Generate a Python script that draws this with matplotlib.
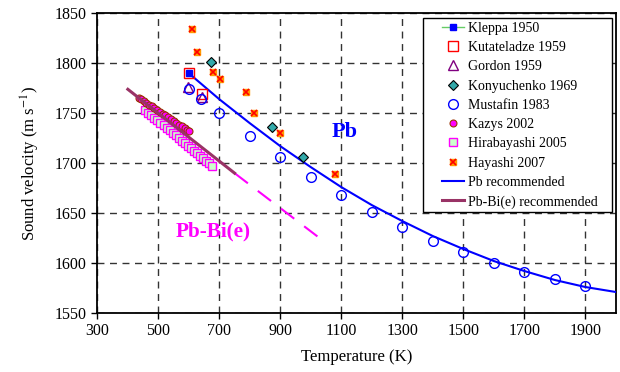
import numpy as np
import matplotlib.pyplot as plt
from matplotlib.patches import Rectangle
from matplotlib.legend_handler import HandlerTuple

plt.rcParams['font.family'] = ['Liberation Serif', 'DejaVu Serif']
plt.rcParams['mathtext.fontset'] = 'stix'

# data
kleppa_T = [601]
kleppa_v = [1790]
kutat_T = [601, 642]
kutat_v = [1790, 1769]
gordon_T = [598, 642]
gordon_v = [1776, 1766]
konyu_T = [674, 874, 975]
konyu_v = [1801, 1736, 1706]
mustafin_T = [600, 640, 700, 800, 900, 1000, 1100, 1200, 1300, 1400, 1500, 1600, 1700, 1800, 1900]
mustafin_v = [1774, 1764, 1750, 1727, 1706, 1686, 1668, 1651, 1636, 1622, 1611, 1600, 1591, 1584, 1577]
kazys_T = [435, 443, 452, 461, 469, 478, 487, 496, 505, 514, 523, 532, 541, 550, 559, 568, 577, 586, 594, 602]
kazys_v = [1765, 1764, 1762, 1760, 1758, 1757, 1755, 1753, 1751, 1749, 1748, 1746, 1744, 1742, 1740, 1738, 1737, 1735, 1733, 1732]
hira_T = [457, 467, 477, 487, 497, 507, 517, 527, 537, 547, 557, 567, 577, 587, 597, 607, 617, 627, 637, 647, 657, 667, 677]
hira_v = [1753, 1750, 1748, 1745, 1743, 1740, 1738, 1735, 1733, 1730, 1728, 1725, 1722, 1720, 1717, 1715, 1712, 1710, 1707, 1705, 1702, 1700, 1697]
hayashi_T = [609, 626, 678, 702, 786, 813, 899, 1079]
hayashi_v = [1834, 1811, 1791, 1784, 1771, 1750, 1730, 1689]
pb_T = [600, 700, 800, 900, 1000, 1100, 1200, 1300, 1400, 1500, 1600, 1700, 1800, 1900, 2000]
pb_v = [1790, 1764, 1740, 1717, 1696, 1676, 1658, 1642, 1627, 1614, 1602, 1592, 1583, 1576, 1571]
pbbi_T = [400, 750]
pbbi_v = [1774, 1690]
pbbi_ext_T = [750, 1050]
pbbi_ext_v = [1690, 1620]

fig = plt.figure(figsize=(6.2, 3.72), dpi=100)
ax = fig.add_axes([0.157, 0.1586, 0.8365, 0.8054])

h_kl, = ax.plot(kleppa_T, kleppa_v, '-s', color='#66cc66', mfc='#0000ff', mec='#0000ff', ms=4.5,
                lw=1, zorder=6)
h_ku, = ax.plot(kutat_T, kutat_v, 's', mfc='none', mec='#ff0000', ms=7, mew=1, zorder=5)
h_go, = ax.plot(gordon_T, gordon_v, '^', mfc='none', mec='#800080', ms=7, mew=1, zorder=5)
h_ko, = ax.plot(konyu_T, konyu_v, 'D', mfc='#33aaaa', mec='black', ms=5, mew=0.8, zorder=5)
h_mu, = ax.plot(mustafin_T, mustafin_v, 'o', mfc='none', mec='#0000ff', ms=7, mew=1, zorder=5)
h_ka, = ax.plot(kazys_T, kazys_v, 'o', mfc='#ff00ff', mec='#993300', ms=5, mew=0.8, zorder=4)
h_hi, = ax.plot(hira_T, hira_v, 's', mfc='#ccffcc', mec='#ff00ff', ms=5.5, mew=1, zorder=3)
h_ha1, = ax.plot(hayashi_T, hayashi_v, 's', mfc='#ff9900', mec='#ff9900', ms=5, zorder=5)
h_ha2, = ax.plot(hayashi_T, hayashi_v, 'x', color='#ff0000', ms=4, mew=1.2, zorder=5.1)
h_pb, = ax.plot(pb_T, pb_v, '-', color='#0000ff', lw=1.5, zorder=4)
h_pbbi, = ax.plot(pbbi_T, pbbi_v, '-', color='#993366', lw=2.2, zorder=4.5)
ax.plot(pbbi_ext_T, pbbi_ext_v, '--', color='#ff00ff', lw=1.5, dashes=(8, 6), zorder=4)

ax.text(1112, 1731, 'Pb', color='#0000ff', fontsize=16, fontweight='bold', ha='center', va='center')
ax.text(679, 1632, 'Pb-Bi(e)', color='#ff00ff', fontsize=15.2, fontweight='bold', ha='center', va='center')

ax.set_xlim(300, 2000)
ax.set_ylim(1550, 1850)
ax.set_xticks(np.arange(300, 2000, 200))
ax.set_yticks(np.arange(1550, 1851, 50))
ax.grid(True, color='#333333', linestyle=(0, (5, 4)), lw=1)
ax.tick_params(direction='out', length=4, width=1, labelsize=11.5)
for s in ax.spines.values():
    s.set_linewidth(1.3)

ax.set_xlabel('Temperature (K)', fontsize=12, labelpad=7)
ax.set_ylabel('Sound velocity (m s$^{-1}$)', fontsize=12, labelpad=9)

# legend frame drawn separately
ax.add_patch(Rectangle((0.6285, 0.336), 0.9929 - 0.6285, 0.9833 - 0.336, transform=ax.transAxes,
                       facecolor='white', edgecolor='black', lw=1, zorder=9))
handles = [h_kl, h_ku, h_go, h_ko, h_mu, h_ka, h_hi, (h_ha1, h_ha2), h_pb, h_pbbi]
labels = ['Kleppa 1950', 'Kutateladze 1959', 'Gordon 1959', 'Konyuchenko 1969', 'Mustafin 1983',
          'Kazys 2002', 'Hirabayashi 2005', 'Hayashi 2007', 'Pb recommended', 'Pb-Bi(e) recommended']
leg = ax.legend(handles, labels, loc='upper left', bbox_to_anchor=(0.6646, 0.972), fontsize=10,
                frameon=False, labelspacing=0.45, handlelength=1.55, handletextpad=0.3,
                borderpad=0, borderaxespad=0,
                handler_map={tuple: HandlerTuple(ndivide=1)})
leg.set_zorder(10)

fig.savefig('out.png', dpi=100)
